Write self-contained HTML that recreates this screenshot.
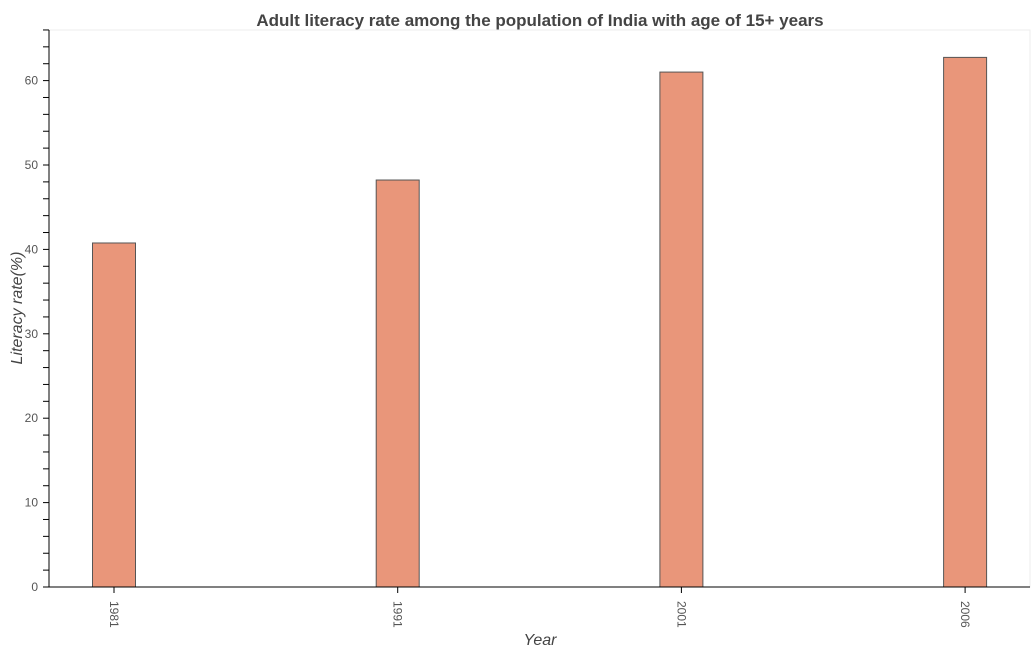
<!DOCTYPE html>
<html><head><meta charset="utf-8"><style>
body{margin:0;background:#fff;font-family:"Liberation Sans",sans-serif}
svg text{font-family:"Liberation Sans",sans-serif}
</style></head><body>
<svg width="1032" height="650">
<text x="540" y="26" text-anchor="middle" font-size="17" font-weight="bold" fill="#444">Adult literacy rate among the population of India with age of 15+ years</text>
<rect x="49" y="30" width="981" height="557" fill="none" stroke="#eee"/>
<g id="bars"></g>
<g id="axes"></g>
<text x="540" y="645" text-anchor="middle" font-size="16" font-style="italic" fill="#444">Year</text>
<text transform="translate(22,308) rotate(-90)" text-anchor="middle" font-size="16" font-style="italic" fill="#444">Literacy rate(%)</text>
</svg>
<script>
const categories=["1981","1991","2001","2006"];
const values=[40.76,48.22,61.01,62.75];
const yTicks=[0,10,20,30,40,50,60];
const NS="http://www.w3.org/2000/svg";
const y0=587,pxPer=8.44,left=49,right=1030;
function ys(v){return y0-v*pxPer;}
function xs(i){return 114+i*283.7;}
const bars=document.getElementById('bars'),axes=document.getElementById('axes');
function mk(tag,at,parent){const e=document.createElementNS(NS,tag);for(const k in at)e.setAttribute(k,at[k]);parent.appendChild(e);return e;}
values.forEach((v,i)=>{
 const r=mk('rect',{x:xs(i)-21.5,y:ys(v),width:43,height:y0-ys(v),fill:'#e9967a',stroke:'#555','stroke-width':1},bars);
 
 
 const t=mk('line',{x1:xs(i),x2:xs(i),y1:y0,y2:y0+6,stroke:'#000'},axes);
 
 
 const l=mk('text',{transform:`translate(${xs(i)-4},${y0+14}) rotate(90)`,'font-size':12,fill:'#555'},axes);
 l.textContent=categories[i];
 
 
});
for(let v=0;v<=66;v+=2){
 const t=mk('line',{x1:left-6,x2:left,y1:ys(v),y2:ys(v),stroke:'#000'},axes);
 
 
}
yTicks.forEach(v=>{
 const l=mk('text',{x:left-11,y:ys(v)+4,'text-anchor':'end','font-size':12,fill:'#555'},axes);
 l.textContent=v;
 
 
});
const ya=mk('line',{x1:left,x2:left,y1:30,y2:y0,stroke:'#000'},axes);


const xa=mk('line',{x1:left,x2:right,y1:y0,y2:y0,stroke:'#000'},axes);


</script>
</body></html>
